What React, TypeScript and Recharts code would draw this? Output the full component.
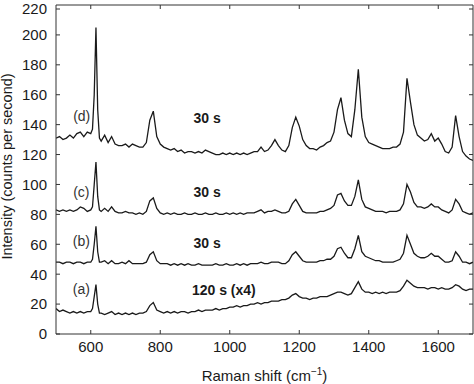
import { LineChart, Line, XAxis, YAxis, ReferenceDot } from "recharts"

// Raman shift (cm-1) sampling, denser around the sharp 615 band
const shift = [
  500, 510, 520, 530, 540, 550, 560, 570, 580, 590,
  600, 605, 610, 615, 620, 625, 630,
  640, 650, 660, 670, 680, 690, 700, 710, 720, 730,
  740, 750, 760, 770, 780, 790, 800, 810, 820, 830,
  840, 850, 860, 870, 880, 890, 900, 910, 920, 930,
  940, 950, 960, 970, 980, 990, 1000, 1010, 1020, 1030,
  1040, 1050, 1060, 1070, 1080, 1090, 1100, 1110, 1120, 1130,
  1140, 1150, 1160, 1170, 1180, 1190, 1200, 1210, 1220, 1230,
  1240, 1250, 1260, 1270, 1280, 1290, 1300, 1310, 1320, 1330,
  1340, 1350, 1360, 1370, 1380, 1390, 1400, 1410, 1420, 1430,
  1440, 1450, 1460, 1470, 1480, 1490, 1500, 1510, 1520, 1530,
  1540, 1550, 1560, 1570, 1580, 1590, 1600, 1610, 1620, 1630,
  1640, 1650, 1660, 1670, 1680, 1690, 1700,
]

// (a) 120 s, x4
const traceA = [
  17, 15, 16, 15, 14, 15, 14, 15, 14, 15,
  15, 17, 25, 33, 20, 14, 14,
  13, 14, 15, 13, 14, 13, 14, 13, 14, 13,
  14, 14, 15, 19, 21, 16, 15, 14, 15, 14,
  15, 14, 15, 15, 14, 15, 15, 16, 15, 16,
  16, 16, 17, 16, 17, 17, 18, 18, 19, 18,
  19, 19, 20, 20, 21, 20, 21, 21, 22, 22,
  22, 23, 23, 24, 26, 27, 25, 24, 24, 23,
  24, 24, 25, 25, 25, 26, 27, 28, 28, 27,
  26, 27, 31, 35, 30, 28, 28, 27, 28, 27,
  28, 27, 28, 28, 28, 29, 32, 36, 34, 32,
  31, 31, 31, 30, 31, 31, 30, 31, 30, 30,
  31, 33, 32, 30, 29, 30, 30,
]

// (b) 30 s
const traceB = [
  48, 48, 47, 48, 48, 47, 48, 48, 47, 48,
  48, 50, 60, 72, 55, 48, 48,
  49, 47, 49, 47, 47, 48, 47, 49, 47, 47,
  47, 47, 48, 53, 55, 49, 47, 47, 47, 46,
  47, 46, 47, 46, 47, 46, 46, 47, 46, 46,
  46, 46, 47, 46, 46, 47, 46, 46, 47, 46,
  47, 46, 47, 47, 47, 48, 47, 47, 48, 48,
  48, 47, 47, 49, 53, 55, 52, 49, 48, 48,
  48, 48, 49, 49, 50, 50, 52, 57, 58, 54,
  51, 51, 57, 66, 55, 52, 51, 50, 49, 49,
  48, 48, 48, 48, 49, 50, 54, 66, 60, 54,
  52, 51, 51, 52, 54, 52, 52, 50, 48, 48,
  49, 55, 52, 48, 48, 47, 48,
]

// (c) 30 s
const traceC = [
  83, 82, 83, 82, 83, 82, 83, 85, 84, 82,
  83, 85, 100, 115, 92, 83, 82,
  84, 82, 85, 82, 81, 81, 82, 81, 81, 80,
  81, 80, 82, 89, 91, 84, 81, 80, 81, 80,
  81, 80, 80, 81, 80, 80, 81, 80, 80, 81,
  80, 80, 81, 80, 80, 81, 80, 81, 80, 81,
  80, 81, 81, 81, 82, 83, 81, 82, 82, 83,
  82, 81, 81, 82, 87, 90, 86, 82, 81, 81,
  81, 81, 82, 82, 83, 84, 86, 93, 94, 89,
  86, 86, 92, 103, 90, 85, 84, 83, 82, 82,
  82, 81, 82, 82, 82, 83, 87, 100, 95, 88,
  85, 85, 84, 85, 87, 85, 85, 83, 82, 81,
  83, 90, 87, 82, 81, 80, 81,
]

// (d) 30 s
const traceD = [
  131, 132, 130, 131, 133, 131, 134, 135, 132, 135,
  134, 137, 160, 205, 150, 131, 129,
  133, 128, 132, 127, 126, 126, 127, 125, 127, 126,
  125, 125, 128, 143, 149, 132, 127, 125, 124, 123,
  124, 122, 123, 121, 122, 122, 121, 122, 121, 123,
  122, 121, 120, 120, 121, 120, 121, 120, 121, 120,
  121, 120, 121, 122, 122, 125, 122, 123, 126, 130,
  126, 123, 122, 126, 138, 145, 139, 130, 126, 124,
  124, 123, 125, 126, 128, 129, 135, 150, 158, 143,
  134, 132, 150, 177, 145, 132, 128, 127, 126, 125,
  124, 124, 124, 125, 125, 127, 135, 171, 155, 140,
  133, 131, 129, 130, 134, 129, 131, 127, 122, 121,
  125, 146, 132, 122, 119, 117, 116,
]

const xTicks = [600, 800, 1000, 1200, 1400, 1600]
const yTicks = [0, 20, 40, 60, 80, 100, 120, 140, 160, 180, 200, 220]

const tagLabels = ["(a)", "(b)", "(c)", "(d)"]
const tagShift = [573, 573, 573, 574]
const tagLevel = [30, 62, 95, 146]

const timeLabels = ["120 s (x4)", "30 s", "30 s", "30 s"]
const timeShift = [983, 935, 935, 935]
const timeLevel = [29.5, 60.5, 95, 144.5]

const data = shift.map((s, i) => ({
  shift: s, a: traceA[i], b: traceB[i], c: traceC[i], d: traceD[i],
}))

const INK = "#1a1a1a"
const AXIS = "#333"
const FONT = "'Liberation Sans', Arial, sans-serif"

function BottomTick({ x, y, payload }: any) {
  return (
    <g>
      <line x1={x} x2={x} y1={y - 7} y2={y - 11} stroke={AXIS} />
      <text x={x} y={y} dy="0.71em" textAnchor="middle" fontSize={15} fill={INK}>{payload.value}</text>
    </g>
  )
}

function LeftTick({ x, y, payload }: any) {
  return (
    <g>
      <line x1={x + 9} x2={x + 13} y1={y} y2={y} stroke={AXIS} />
      <text x={x} y={y} dy="0.355em" textAnchor="end" fontSize={15} fill={INK}>{payload.value}</text>
    </g>
  )
}

function TopTick({ x, y }: any) {
  return <line x1={x} x2={x} y1={y} y2={y + 4} stroke={AXIS} />
}

function RightTick({ x, y }: any) {
  return <line x1={x - 4} x2={x} y1={y} y2={y} stroke={AXIS} />
}

function XTitle({ viewBox }: any) {
  const cx = viewBox.x + viewBox.width / 2
  return (
    <text x={cx} y={viewBox.y + 47} textAnchor="middle" fontSize={15} fill={INK}>
      Raman shift (cm<tspan fontSize={10} dy={-6}>−1</tspan><tspan dy={6}>)</tspan>
    </text>
  )
}

function YTitle({ viewBox }: any) {
  const cx = viewBox.x + 6
  const cy = viewBox.y + viewBox.height / 2 - 3
  return (
    <text x={cx} y={cy} transform={`rotate(-90, ${cx}, ${cy})`} textAnchor="middle" fontSize={14.5} fill={INK}>
      Intensity (counts per second)
    </text>
  )
}

export default function App() {
  return (
    <div style={{ position: "absolute", left: 0, top: 0, fontFamily: FONT }}>
      <LineChart width={474} height={384} data={data} margin={{ top: 4, right: 0, left: 6, bottom: 0 }}>
        <XAxis
          dataKey="shift" type="number" domain={[500, 1700]} ticks={xTicks} allowDataOverflow
          height={50} tickSize={0} tickMargin={7} tickLine={false}
          axisLine={{ stroke: AXIS }} tick={<BottomTick />} label={<XTitle />}
        />
        <XAxis
          xAxisId="top" orientation="top" dataKey="shift" type="number" domain={[500, 1700]} ticks={xTicks}
          allowDataOverflow height={1} tickSize={0} tickMargin={0} tickLine={false}
          axisLine={{ stroke: AXIS }} tick={<TopTick />}
        />
        <YAxis
          type="number" domain={[0, 220]} ticks={yTicks} width={50}
          tickSize={0} tickMargin={9} tickLine={false}
          axisLine={{ stroke: AXIS }} tick={<LeftTick />} label={<YTitle />}
        />
        <YAxis
          yAxisId="right" orientation="right" type="number" domain={[0, 220]} ticks={yTicks} width={1}
          tickSize={0} tickMargin={0} tickLine={false}
          axisLine={{ stroke: AXIS }} tick={<RightTick />}
        />
        <Line dataKey="a" stroke={INK} strokeWidth={1.3} dot={false} isAnimationActive={false} />
        <Line dataKey="b" stroke={INK} strokeWidth={1.3} dot={false} isAnimationActive={false} />
        <Line dataKey="c" xAxisId="top" yAxisId="right" stroke={INK} strokeWidth={1.3} dot={false} isAnimationActive={false} />
        <Line dataKey="d" xAxisId="top" yAxisId="right" stroke={INK} strokeWidth={1.3} dot={false} isAnimationActive={false} />
        {tagLabels.map((t, i) => (
          <ReferenceDot
            key={t} x={tagShift[i]} y={tagLevel[i]} r={0} fill="none" stroke="none"
            label={{ value: t, position: "center", fontSize: 14, fill: "#333" }}
          />
        ))}
        {timeLabels.map((t, i) => (
          <ReferenceDot
            key={`t${i}`} x={timeShift[i]} y={timeLevel[i]} r={0} fill="none" stroke="none"
            label={{ value: t, position: "center", fontSize: 14, fontWeight: 700, fill: INK }}
          />
        ))}
      </LineChart>
    </div>
  )
}
